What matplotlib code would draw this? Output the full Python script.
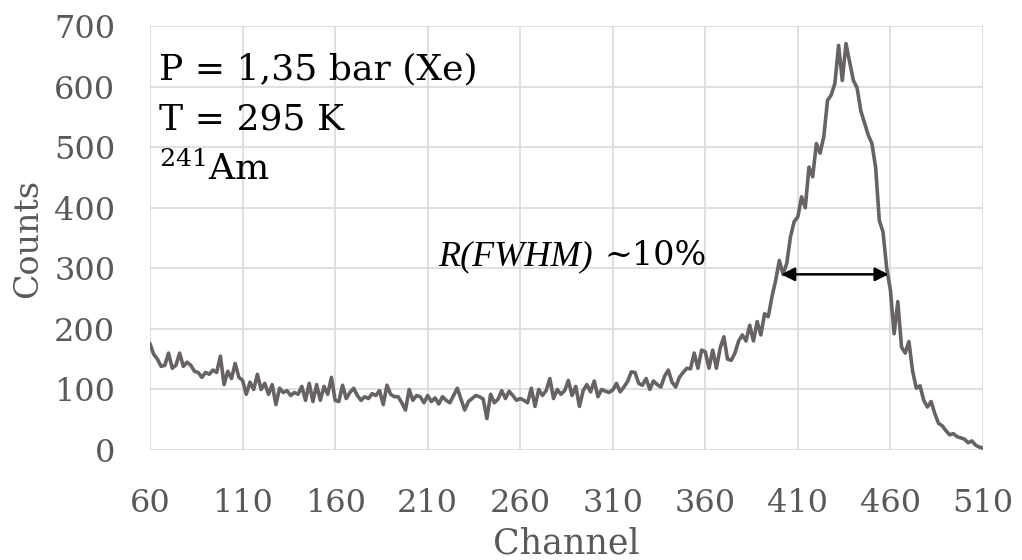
import matplotlib
matplotlib.use("Agg")
import matplotlib.pyplot as plt

# Data (every 2 channels)
channel = list(range(60, 511, 2))
counts = [
    175, 158, 150, 138, 140, 160, 135, 140, 160, 138, 145, 140, 130, 128, 120, 128, 125,
    132, 128, 155, 108, 130, 118, 143, 120, 115, 92, 112, 100, 125, 100, 110, 92, 108,
    75, 102, 95, 98, 90, 95, 92, 105, 82, 110, 80, 108, 82, 105, 92, 120, 82,
    80, 107, 85, 95, 102, 90, 82, 88, 85, 93, 90, 98, 75, 107, 92, 88, 88, 78, 66, 100,
    82, 90, 88, 78, 90, 80, 86, 76, 88, 82, 78, 90, 102, 84, 66, 80, 85, 90, 88, 84,
    52, 92, 78, 84, 98, 85, 97, 90, 82, 85,
    82, 78, 102, 72, 100, 90, 98, 118, 85, 100, 92, 98, 115, 90, 105, 72, 98, 108, 96,
    114, 88, 100, 97, 95, 99, 110, 96, 104, 113, 129, 128, 110, 107, 118, 100, 114, 108,
    104, 122, 132, 112, 104, 120, 128, 135, 134, 160, 135, 165, 162, 135, 165,
    135, 168, 187, 150, 148, 160, 180, 190, 180, 206, 180, 212, 190, 225, 220, 253, 280,
    313, 290, 308, 352, 377, 385, 418, 400, 467, 451, 506, 490, 517, 577, 586, 605, 668,
    610, 671, 640, 610, 598, 560,
    540, 520, 506, 467, 379, 360, 300, 264, 192, 245, 170, 160, 179, 130, 102, 106, 82,
    71, 80, 60, 44, 40, 32, 25, 27, 22, 20, 18, 12, 15, 8, 5, 3,
]
x_ticks = [60, 110, 160, 210, 260, 310, 360, 410, 460, 510]
y_ticks = [0, 100, 200, 300, 400, 500, 600, 700]
fwhm_left, fwhm_right, fwhm_level = 401, 459, 290

plt.rcParams['font.family'] = 'DejaVu Serif'
plt.rcParams['mathtext.fontset'] = 'dejavuserif'

fig = plt.figure(figsize=(10.22, 5.6), dpi=100)
ax = fig.add_axes([0.1468, 0.1964, 0.8150, 0.7572])

ax.plot(channel, counts, color='#676362', linewidth=2.6, solid_joinstyle='round')

ax.set_xlim(60, 510)
ax.set_ylim(0, 700)
ax.set_xticks(x_ticks)
ax.set_yticks(y_ticks)
ax.grid(True, color='#d9d9d9', linewidth=1.2)
ax.set_axisbelow(True)
for s in ax.spines.values():
    s.set_visible(False)
ax.tick_params(length=0, labelsize=23, labelcolor='#595959')
ax.tick_params(axis='x', pad=27)
ax.tick_params(axis='y', pad=25)

# axis titles
fig.text(28 / 1022, 0.575, 'Counts', rotation=90, fontsize=24, color='#595959',
         ha='center', va='center')
fig.text(0.554, 0.0125, 'Channel', fontsize=25, color='#595959', ha='center', va='baseline')

# annotations
ax.text(0.011, 0.873, 'P = 1,35 bar (Xe)', transform=ax.transAxes, fontsize=26, color='black')
ax.text(0.011, 0.755, 'T = 295 K', transform=ax.transAxes, fontsize=26, color='black')
ax.text(0.011, 0.637, r'$^{241}$Am', transform=ax.transAxes, fontsize=26, color='black')

ax.text(215.6, 305, 'R(FWHM)', fontsize=26, style='italic', family='Liberation Serif',
        color='black', ha='left', va='baseline')
ax.text(361, 305, '~10%', fontsize=24, color='black', ha='right', va='baseline')

ax.annotate('', xy=(fwhm_left, fwhm_level), xytext=(fwhm_right, fwhm_level),
            arrowprops=dict(arrowstyle='<|-|>', color='black', lw=1.8,
                            mutation_scale=20, shrinkA=0, shrinkB=0))

fig.savefig('out.png', dpi=100)
